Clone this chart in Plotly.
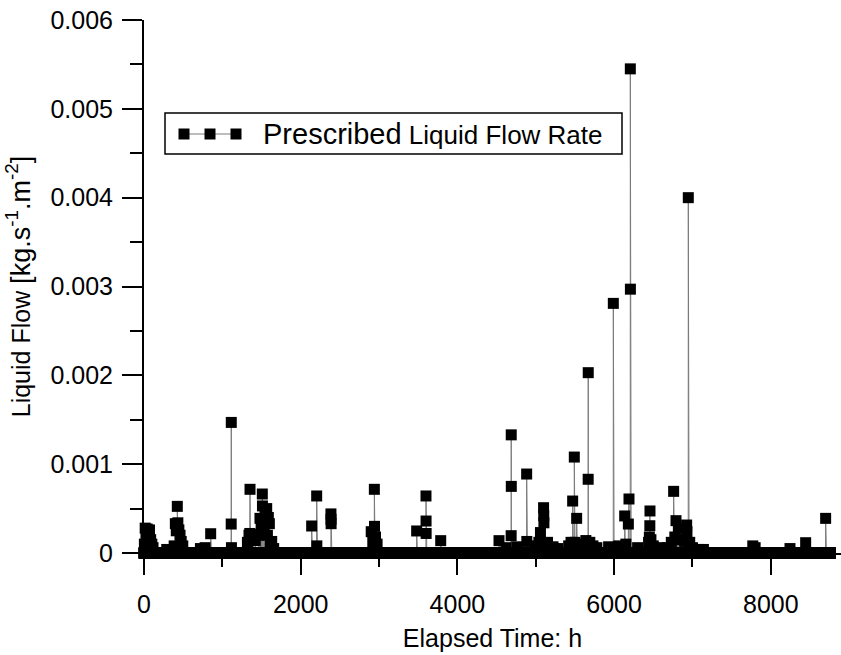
import plotly.graph_objects as go

# Hours of the year that carry a prescribed liquid flow; every other hour is zero.
event_hours = [
    5, 15, 25, 40, 55, 70, 85, 100, 115, 290,
    385, 400, 412, 425, 432, 445, 460, 475, 495, 720,
    780, 851, 1113, 1114, 1116, 1320, 1340, 1350, 1353, 1375,
    1395, 1420, 1460, 1480, 1495, 1510, 1512, 1530, 1545, 1566,
    1575, 1587, 1600, 1612, 1630, 1655, 2140, 2204, 2206, 2386,
    2387, 2388, 2900, 2920, 2940, 2942, 2955, 2975, 3480, 3599,
    3600, 3601, 3787, 4531, 4620, 4686, 4687, 4688, 4760, 4884,
    4886, 4990, 5020, 5040, 5060, 5100, 5102, 5104, 5150, 5220,
    5280, 5420, 5450, 5471, 5492, 5500, 5522, 5545, 5600, 5640,
    5669, 5670, 5690, 5730, 5780, 5930, 5990, 6060, 6110, 6135,
    6150, 6182, 6190, 6207, 6208, 6300, 6440, 6450, 6456, 6458,
    6470, 6500, 6580, 6680, 6730, 6760, 6775, 6790, 6805, 6820,
    6850, 6900, 6926, 6930, 6947, 6965, 7000, 7080, 7140, 7770,
    7800, 8245, 8445, 8700,
]
event_flow = [
    0.00010, 0.00028, 0.00022, 0.00027, 0.00018, 0.00026, 0.00015, 0.00010, 0.00006, 0.00004,
    0.00008, 0.00033, 0.00025, 0.000525, 0.00034, 0.00026, 0.00020, 0.00013, 0.00008, 0.00005,
    0.00006, 0.000217, 0.000326, 0.00147, 0.00006, 0.00012, 0.00020, 0.00022, 0.000717, 0.00017,
    0.00021, 0.00014, 0.00020, 0.00039, 0.00030, 0.000664, 0.00053, 0.00025, 0.00045, 0.00050,
    0.00020, 0.00040, 0.00033, 0.00012, 0.00013, 0.00005, 0.000304, 0.000642, 0.00008, 0.00044,
    0.00038, 0.00033, 0.00024, 0.00012, 0.000717, 0.00030, 0.00018, 0.00010, 0.000248, 0.000642,
    0.00036, 0.00022, 0.000139, 0.000139, 0.00006, 0.000195, 0.00133, 0.00075, 0.00007, 0.000889,
    0.00013, 0.00008, 0.00005, 0.00012, 0.00023, 0.00051, 0.00042, 0.00034, 0.00012, 0.00007,
    0.00005, 0.00008, 0.00012, 0.000585, 0.00108, 0.00012, 0.00039, 0.00010, 0.00009, 0.00014,
    0.00083, 0.00203, 0.00012, 0.00008, 0.00006, 0.00007, 0.00281, 0.00008, 0.00007, 0.000417,
    0.00010, 0.000326, 0.000608, 0.00545, 0.00297, 0.00006, 0.00012, 0.00018, 0.000307, 0.000473,
    0.00015, 0.00008, 0.00006, 0.00006, 0.00012, 0.000694, 0.00018, 0.000364, 0.00016, 0.00028,
    0.00015, 0.00013, 0.000315, 0.00024, 0.00400, 0.00012, 0.00006, 0.00004, 0.00004, 0.00008,
    0.00006, 0.00005, 0.000116, 0.00039,
]

hours_in_year = 8760
x_ticks = [0, 2000, 4000, 6000, 8000]
y_ticks = [0, 0.001, 0.002, 0.003, 0.004, 0.005, 0.006]
y_tick_labels = ["0", "0.001", "0.002", "0.003", "0.004", "0.005", "0.006"]

# Hourly series over one year
hours = list(range(hours_in_year + 1))
flow = [0.0] * len(hours)
for h, q in zip(event_hours, event_flow):
    flow[h] = q

FONT = "Liberation Sans, Arial, sans-serif"

fig = go.Figure()
fig.add_trace(go.Scatter(
    x=hours, y=flow,
    mode="lines+markers",
    line=dict(color="#7a7a7a", width=1),
    marker=dict(symbol="square", size=11, color="black", line=dict(width=0)),
    cliponaxis=False,
    showlegend=False,
    name="Prescribed Liquid Flow Rate",
))

axis_common = dict(
    showline=True, linecolor="black", linewidth=2,
    ticks="outside", ticklen=20, tickwidth=2, tickcolor="black",
    showgrid=False, zeroline=False,
    tickfont=dict(family=FONT, size=25, color="black"),
)

fig.update_xaxes(
    **axis_common,
    range=[0, 8896],
    tickvals=x_ticks,
    ticklabelstandoff=8,
    minor=dict(ticks="outside", ticklen=12, tickwidth=2, tickcolor="black",
               dtick=1000, tick0=0, showgrid=False),
    title=dict(text="Elapsed Time: h", font=dict(family=FONT, size=25, color="black"),
               standoff=12),
)
fig.update_yaxes(
    **axis_common,
    range=[0, 0.006],
    tickvals=y_ticks,
    ticktext=y_tick_labels,
    ticklabelstandoff=4,
    minor=dict(ticks="outside", ticklen=12, tickwidth=2, tickcolor="black",
               dtick=0.0005, tick0=0, showgrid=False),
    title=dict(text='Liquid Flow <span style="font-size:27px">[kg.s<sup>-1</sup>.m<sup>-2</sup>]</span>',
               font=dict(family=FONT, size=25, color="black"), standoff=13),
)

# Plot area spans 144..841 px horizontally and 20..553 px vertically
L, T, W, H = 144, 20, 697, 533


def px(x):
    return (x - L) / W


def py(y):
    return (T + H - y) / H


shapes = [
    dict(type="rect", xref="paper", yref="paper",
         x0=px(165), x1=px(622), y0=py(154), y1=py(113),
         line=dict(color="black", width=1.5), fillcolor="white", layer="above"),
    dict(type="line", xref="paper", yref="paper",
         x0=px(184), x1=px(236), y0=py(134), y1=py(134),
         line=dict(color="#7a7a7a", width=1), layer="above"),
]
for cx in (184, 210, 236):
    shapes.append(dict(type="rect", xref="paper", yref="paper",
                       x0=px(cx - 5.5), x1=px(cx + 5.5), y0=py(139.5), y1=py(128.5),
                       line=dict(width=0), fillcolor="black", layer="above"))

fig.update_layout(
    width=841, height=655,
    margin=dict(l=L, r=841 - L - W, t=T, b=655 - T - H),
    plot_bgcolor="white", paper_bgcolor="white",
    font=dict(family=FONT, color="black"),
    shapes=shapes,
    annotations=[dict(
        xref="paper", yref="paper", x=px(261), y=py(134),
        xanchor="left", yanchor="middle", showarrow=False,
        text='<span style="font-size:29px">Prescribed</span> '
             '<span style="font-size:26px">Liquid Flow Rate</span>',
        font=dict(family=FONT, size=26, color="black"),
    )],
)

fig.write_html("out.html")
